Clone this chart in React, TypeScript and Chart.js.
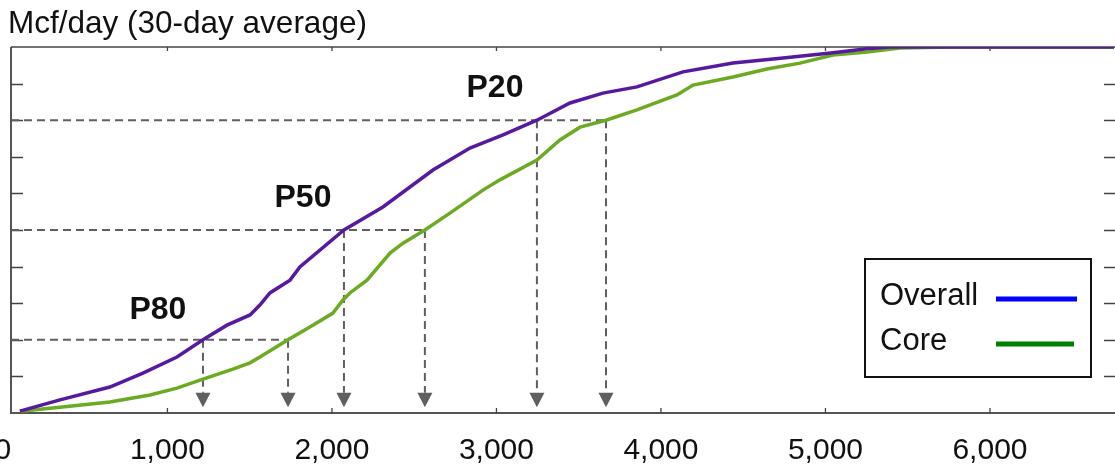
import React, { useEffect, useRef } from "react";
import { Chart, registerables } from "chart.js";

Chart.register(...registerables);

const TITLE = "Mcf/day (30-day average)";
const X_MIN = 49;
const X_MAX = 6754;
const X_TICKS = [0, 1000, 2000, 3000, 4000, 5000, 6000];
const Y_TICKS = [0.1, 0.2, 0.3, 0.4, 0.5, 0.6, 0.7, 0.8, 0.9];

const overallX = [103, 347, 650, 851, 1058, 1216, 1362, 1502, 1562, 1623, 1745, 1805, 2073, 2310, 2614, 2839, 3040, 3246, 3447, 3647, 3854, 4134, 4438, 4742, 5046, 5252, 5392, 6754];
const overallY = [0.005, 0.036, 0.071, 0.109, 0.153, 0.2, 0.24, 0.268, 0.295, 0.328, 0.363, 0.399, 0.5, 0.563, 0.664, 0.724, 0.76, 0.8, 0.847, 0.874, 0.891, 0.932, 0.956, 0.97, 0.984, 0.995, 1.0, 1.0];

const coreX = [103, 347, 650, 894, 1058, 1198, 1398, 1502, 1562, 1733, 1866, 2006, 2067, 2109, 2213, 2353, 2432, 2565, 2717, 2918, 3021, 3246, 3386, 3508, 3666, 3854, 4097, 4195, 4438, 4644, 4845, 5046, 5252, 5453, 5757, 6754];
const coreY = [0.005, 0.016, 0.03, 0.049, 0.068, 0.09, 0.12, 0.137, 0.153, 0.2, 0.235, 0.273, 0.309, 0.328, 0.363, 0.437, 0.464, 0.5, 0.546, 0.609, 0.637, 0.691, 0.746, 0.781, 0.8, 0.828, 0.869, 0.896, 0.918, 0.94, 0.956, 0.978, 0.986, 0.997, 1.0, 1.0];

const pLabels = ["P80", "P50", "P20"];
const pLevels = [0.2, 0.5, 0.8];
const overallP = [1216, 2073, 3246];
const coreP = [1733, 2565, 3666];
const pLabelX = [942, 1824, 2991];
const pLabelY = [0.281, 0.587, 0.888];
const ARROW_TOP = 0.055;
const ARROW_TIP = 0.016;

const legendNames = ["Overall", "Core"];
const legendColors = ["#0000FF", "#008000"];

const OVERALL_COLOR = "#561A9E";
const CORE_COLOR = "#6BAA22";
const FONT = "'Liberation Sans', Arial, Helvetica, sans-serif";

export default function App() {
  const ref = useRef<HTMLCanvasElement>(null);

  useEffect(() => {
    const canvas = ref.current;
    if (!canvas) return;

    const overlay = {
      id: "overlay",
      beforeDatasetsDraw(chart: any) {
        const { ctx, chartArea, scales } = chart;
        const { left, top, bottom } = chartArea;
        const xs = scales.x;
        const ys = scales.y;
        const W = chart.width;
        ctx.save();
        ctx.strokeStyle = "#555";
        ctx.lineWidth = 2;
        ctx.beginPath();
        ctx.moveTo(left, top);
        ctx.lineTo(left, bottom + 1);
        ctx.moveTo(left, bottom);
        ctx.lineTo(W, bottom);
        ctx.stroke();
        ctx.lineWidth = 1.5;
        ctx.strokeStyle = "#444";
        ctx.beginPath();
        ctx.moveTo(left, top);
        ctx.lineTo(W, top);
        ctx.stroke();
        ctx.lineWidth = 1.3;
        ctx.beginPath();
        for (const t of Y_TICKS) {
          const py = Math.round(ys.getPixelForValue(t)) + 0.5;
          ctx.moveTo(left, py);
          ctx.lineTo(left + 12, py);
          ctx.moveTo(W - 11, py);
          ctx.lineTo(W, py);
        }
        for (const t of X_TICKS) {
          const px = xs.getPixelForValue(t);
          if (px < left + 2) continue;
          ctx.moveTo(px, bottom);
          ctx.lineTo(px, bottom - 5);
          ctx.moveTo(px, top);
          ctx.lineTo(px, top + 4);
        }
        ctx.stroke();
        ctx.strokeStyle = "#606060";
        ctx.lineWidth = 2;
        ctx.setLineDash([8, 5]);
        const aTop = ys.getPixelForValue(ARROW_TOP);
        const aTip = ys.getPixelForValue(ARROW_TIP);
        for (let i = 0; i < pLevels.length; i++) {
          const py = ys.getPixelForValue(pLevels[i]);
          const xEnd = xs.getPixelForValue(Math.max(overallP[i], coreP[i]));
          ctx.beginPath();
          ctx.moveTo(left, py);
          ctx.lineTo(xEnd, py);
          for (const v of [overallP[i], coreP[i]]) {
            const px = xs.getPixelForValue(v);
            ctx.moveTo(px, py);
            ctx.lineTo(px, aTop);
          }
          ctx.stroke();
        }
        ctx.setLineDash([]);
        ctx.fillStyle = "#5f5f5f";
        for (let i = 0; i < pLevels.length; i++) {
          for (const v of [overallP[i], coreP[i]]) {
            const px = xs.getPixelForValue(v);
            ctx.beginPath();
            ctx.moveTo(px - 7.5, aTop);
            ctx.lineTo(px + 7.5, aTop);
            ctx.lineTo(px, aTip);
            ctx.closePath();
            ctx.fill();
          }
        }
        ctx.restore();
      },
      afterDatasetsDraw(chart: any) {
        const { ctx, scales } = chart;
        const xs = scales.x;
        const ys = scales.y;
        ctx.save();
        ctx.fillStyle = "#111";
        ctx.font = `bold 32px ${FONT}`;
        ctx.textAlign = "center";
        ctx.textBaseline = "middle";
        for (let i = 0; i < pLabels.length; i++) {
          ctx.fillText(pLabels[i], xs.getPixelForValue(pLabelX[i]), ys.getPixelForValue(pLabelY[i]));
        }
        ctx.fillStyle = "#fff";
        ctx.fillRect(865, 259, 226, 118);
        ctx.strokeStyle = "#111";
        ctx.lineWidth = 2;
        ctx.strokeRect(865, 259, 226, 118);
        ctx.font = `31px ${FONT}`;
        ctx.textAlign = "left";
        ctx.textBaseline = "alphabetic";
        const rows = [
          { ty: 305, ly: 299, lx2: 1077 },
          { ty: 350, ly: 344, lx2: 1074 },
        ];
        for (let i = 0; i < legendNames.length; i++) {
          ctx.fillStyle = "#111";
          ctx.fillText(legendNames[i], 880, rows[i].ty);
          ctx.strokeStyle = legendColors[i];
          ctx.lineWidth = 5;
          ctx.beginPath();
          ctx.moveTo(996, rows[i].ly);
          ctx.lineTo(rows[i].lx2, rows[i].ly);
          ctx.stroke();
        }
        ctx.restore();
      },
      afterDraw(chart: any) {
        const { ctx } = chart;
        ctx.save();
        ctx.fillStyle = "#111";
        ctx.font = `31.5px ${FONT}`;
        ctx.textAlign = "left";
        ctx.textBaseline = "alphabetic";
        ctx.fillText(TITLE, 8, 33);
        ctx.restore();
      },
    };

    const chart = new Chart(canvas, {
      type: "line",
      data: {
        datasets: [
          {
            label: "Overall",
            data: overallX.map((x, i) => ({ x, y: overallY[i] })),
            borderColor: OVERALL_COLOR,
            backgroundColor: OVERALL_COLOR,
            borderWidth: 3.5,
            pointRadius: 0,
            tension: 0,
            fill: false,
          },
          {
            label: "Core",
            data: coreX.map((x, i) => ({ x, y: coreY[i] })),
            borderColor: CORE_COLOR,
            backgroundColor: CORE_COLOR,
            borderWidth: 3.5,
            pointRadius: 0,
            tension: 0,
            fill: false,
          },
        ],
      },
      options: {
        animation: false,
        responsive: false,
        devicePixelRatio: 1,
        layout: { padding: { left: 11, right: 1, top: 47, bottom: 0 } },
        scales: {
          x: {
            type: "linear",
            min: X_MIN,
            max: X_MAX,
            position: "bottom",
            grid: { display: false },
            border: { display: false },
            ticks: {
              font: { family: FONT, size: 30 },
              color: "#111",
              padding: 12,
              autoSkip: false,
              maxRotation: 0,
              callback: (v: any) => Number(v).toLocaleString("en-US"),
            },
            afterBuildTicks: (s: any) => {
              s.ticks = X_TICKS.map((v) => ({ value: v }));
            },
            afterFit: (s: any) => {
              s.height = 56;
              s.paddingLeft = 0;
              s.paddingRight = 0;
            },
          },
          y: { type: "linear", min: 0, max: 1, display: false },
        },
        plugins: { legend: { display: false }, tooltip: { enabled: false } },
      },
      plugins: [overlay],
    } as any);

    return () => chart.destroy();
  }, []);

  return (
    <div style={{ position: "fixed", left: 0, top: 0, width: 1115, height: 469, background: "#fff" }}>
      <canvas ref={ref} width={1115} height={469} style={{ display: "block" }} />
    </div>
  );
}
